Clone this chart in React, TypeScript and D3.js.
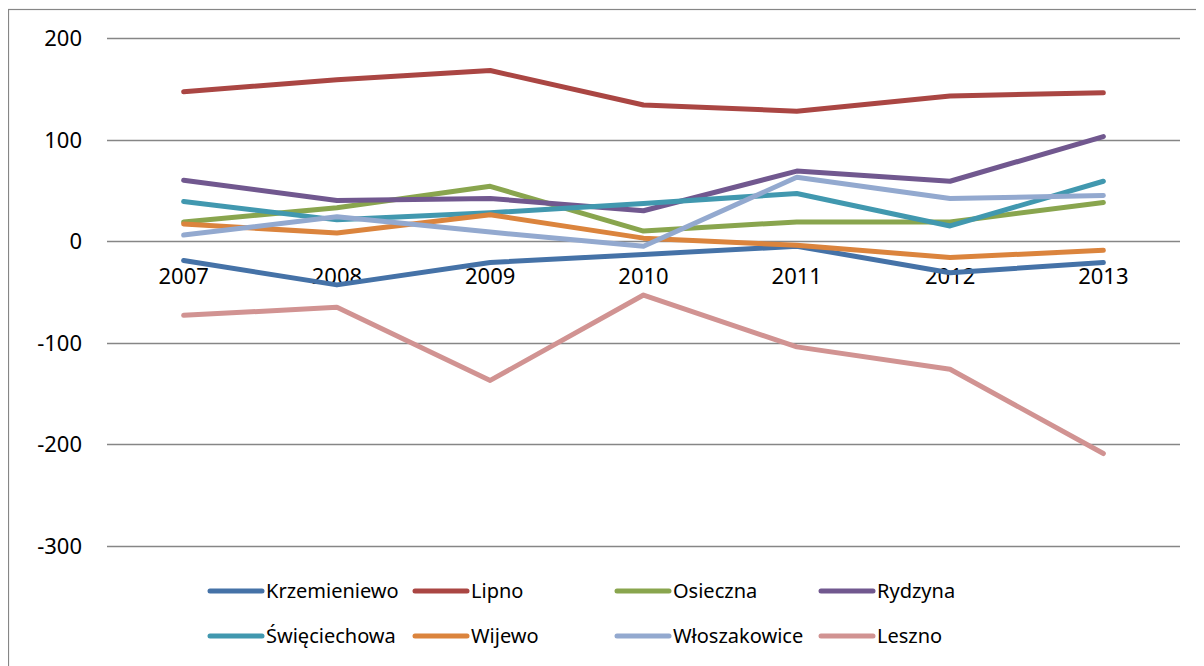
import React, { useRef, useEffect } from "react";
import * as d3 from "d3";

// Years along the category axis
const years = ["2007", "2008", "2009", "2010", "2011", "2012", "2013"];

// Series values
const krzemieniewo = [-19, -43, -21, -13, -5, -31, -21];
const lipno = [147, 159, 168, 134, 128, 143, 146];
const osieczna = [19, 33, 54, 10, 19, 19, 38];
const rydzyna = [60, 40, 42, 30, 69, 59, 103];
const swieciechowa = [39, 21, 28, 37, 47, 15, 59];
const wijewo = [17, 8, 26, 3, -4, -16, -9];
const wloszakowice = [6, 24, 9, -5, 63, 42, 45];
const leszno = [-73, -65, -137, -53, -104, -126, -209];

const seriesNames = [
  "Krzemieniewo",
  "Lipno",
  "Osieczna",
  "Rydzyna",
  "Święciechowa",
  "Wijewo",
  "Włoszakowice",
  "Leszno",
];
const seriesValues = [
  krzemieniewo,
  lipno,
  osieczna,
  rydzyna,
  swieciechowa,
  wijewo,
  wloszakowice,
  leszno,
];
const colors = [
  "#4572a7",
  "#aa4643",
  "#89a54e",
  "#71588f",
  "#4198af",
  "#db843d",
  "#93a9cf",
  "#d19392",
];

const yTicks = [200, 100, 0, -100, -200, -300];

export default function App() {
  const svgRef = useRef<SVGSVGElement>(null);

  useEffect(() => {
    const svg = d3.select(svgRef.current);
    svg.selectAll("*").remove();

    const width = 1196;
    const height = 658;
    const font = "'Noto Sans', 'Open Sans', sans-serif";

    // plot area in svg coords (svg sits at page 8,8)
    const left = 99;
    const right = 1172;
    const top = 30;
    const bottom = 538;

    svg.attr("width", width).attr("height", height);

    // outer chart border (right/bottom run off the page)
    svg.append("rect")
      .attr("x", 0.5)
      .attr("y", 1.5)
      .attr("width", width + 10)
      .attr("height", height + 10)
      .attr("fill", "#fff")
      .attr("stroke", "#868686")
      .attr("stroke-width", 1.2);

    const x = d3.scaleBand().domain(years).range([left, right]);
    const y = d3.scaleLinear().domain([-300, 200]).range([bottom, top]);

    // gridlines
    svg.append("g")
      .selectAll("line")
      .data(yTicks)
      .join("line")
      .attr("x1", left)
      .attr("x2", right)
      .attr("y1", (d) => Math.round(y(d)) + 0.5)
      .attr("y2", (d) => Math.round(y(d)) + 0.5)
      .attr("stroke", "#868686")
      .attr("stroke-width", 1.3);

    // y tick labels
    svg.append("g")
      .selectAll("text")
      .data(yTicks)
      .join("text")
      .attr("x", 74)
      .attr("y", (d) => y(d))
      .attr("dy", "0.36em")
      .attr("text-anchor", "end")
      .attr("font-family", font)
      .attr("font-size", 22)
      .attr("fill", "#000")
      .text((d) => d3.format("d")(d).replace("−", "-"));

    // x labels sit just below the zero line
    svg.append("g")
      .selectAll("text")
      .data(years)
      .join("text")
      .attr("x", (d) => (x(d) ?? 0) + x.bandwidth() / 2)
      .attr("y", y(0) + 43)
      .attr("text-anchor", "middle")
      .attr("font-family", font)
      .attr("font-size", 22)
      .attr("fill", "#000")
      .text((d) => d);

    const line = d3
      .line<number>()
      .x((_, i) => (x(years[i]) ?? 0) + x.bandwidth() / 2)
      .y((d) => y(d));

    svg.append("g")
      .selectAll("path")
      .data(seriesValues)
      .join("path")
      .attr("fill", "none")
      .attr("stroke", (_, i) => colors[i])
      .attr("stroke-width", 5)
      .attr("stroke-linecap", "round")
      .attr("stroke-linejoin", "round")
      .attr("d", (d) => line(d));

    // legend: 4 columns x 2 rows
    const colX = [202, 407, 609, 813];
    const rowY = [583, 628];
    const legend = svg.append("g")
      .selectAll("g")
      .data(seriesNames)
      .join("g")
      .attr("transform", (_, i) => `translate(${colX[i % 4]},${rowY[Math.floor(i / 4)]})`);

    legend.append("line")
      .attr("x1", 0)
      .attr("x2", 52)
      .attr("stroke", (_, i) => colors[i])
      .attr("stroke-width", 5)
      .attr("stroke-linecap", "round");

    legend.append("text")
      .attr("x", 56)
      .attr("dy", "0.35em")
      .attr("font-family", font)
      .attr("font-size", 20)
      .attr("fill", "#000")
      .text((d) => d);
  }, []);

  return <svg ref={svgRef} style={{ display: "block" }} />;
}
